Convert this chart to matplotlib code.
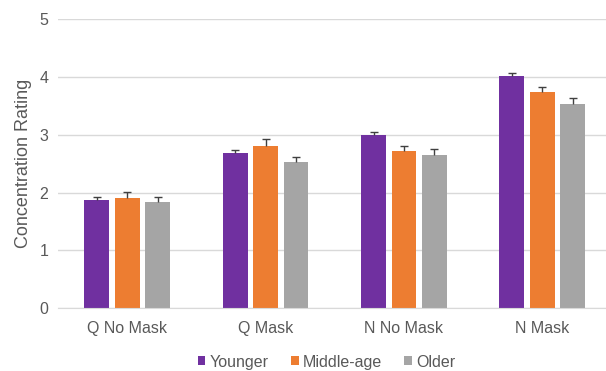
import numpy as np
import matplotlib.pyplot as plt

plt.rcParams['font.family'] = ['Liberation Sans', 'DejaVu Sans']

# Mean concentration rating per condition and age group, with upper error
conditions = ["Q No Mask", "Q Mask", "N No Mask", "N Mask"]
groups = ["Younger", "Middle-age", "Older"]
younger = [1.88, 2.68, 3.00, 4.02]
middle_age = [1.90, 2.81, 2.71, 3.74]
older = [1.84, 2.52, 2.65, 3.53]
younger_err = [0.04, 0.05, 0.04, 0.05]
middle_age_err = [0.11, 0.11, 0.09, 0.08]
older_err = [0.08, 0.09, 0.11, 0.10]

colors = ["#7030A0", "#ED7D31", "#A5A5A5"]
text_color = "#595959"
err_color = "#404040"

fig = plt.figure(figsize=(6.06, 3.71), dpi=100)
ax = fig.add_axes([58 / 606, 1 - 308.3 / 371, 1 - 58 / 606, 289.3 / 371])

x = np.arange(len(conditions))
width = 0.18
step = 0.22
series = [(younger, younger_err), (middle_age, middle_age_err), (older, older_err)]
for i, (vals, errs) in enumerate(series):
    pos = x + (i - 1) * step
    vals = np.array(vals)
    tops = vals + np.array(errs)
    ax.bar(pos, vals, width, color=colors[i], label=groups[i], zorder=2)
    # upper-only error bars: stem from bar top plus a cap
    ax.vlines(pos, vals, tops, color=err_color, linewidth=1.0, zorder=3)
    ax.plot(pos, tops, linestyle="none", marker="_", markersize=6,
            markeredgewidth=1.0, color=err_color, zorder=3)

ax.set_ylim(0, 5)
ax.set_xlim(-0.5, 3.46)
ax.set_yticks(range(6))
ax.yaxis.grid(True, color="#D9D9D9", linewidth=1.0, zorder=0)
ax.set_axisbelow(True)
for side in ["top", "right", "left"]:
    ax.spines[side].set_visible(False)
ax.spines["bottom"].set_color("#D9D9D9")
ax.tick_params(axis="both", length=0, labelsize=11.5, labelcolor=text_color)
ax.tick_params(axis="y", pad=7)
ax.tick_params(axis="x", pad=9)
ax.set_xticks(x)
ax.set_xticklabels(conditions)
ax.set_ylabel("Concentration Rating", fontsize=13, color=text_color, labelpad=5)

ax.legend(loc="center", bbox_to_anchor=(0.49, -0.186), ncol=3, frameon=False,
          fontsize=11.5, labelcolor=text_color, handlelength=0.5, handleheight=0.5,
          handletextpad=0.25, columnspacing=1.4)

fig.savefig("out.png", dpi=100)
